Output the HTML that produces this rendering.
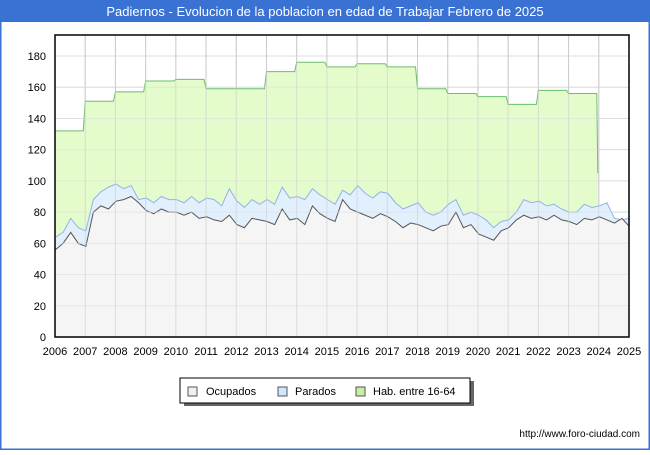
<!DOCTYPE html>
<html><head><meta charset="utf-8"><style>
body{margin:0;width:650px;height:450px;overflow:hidden;font-family:"Liberation Sans","DejaVu Sans",sans-serif;}
</style></head><body>
<svg id="c" width="650" height="450" xmlns="http://www.w3.org/2000/svg">
<rect x="0" y="0" width="650" height="450" fill="#fff" stroke="#3a72d3" stroke-width="3"/>
<rect x="0" y="0" width="650" height="22" fill="#3a72d3"/>
<text x="325" y="16" text-anchor="middle" font-size="13" fill="#fff">Padiernos - Evolucion de la poblacion en edad de Trabajar Febrero de 2025</text>
<g id="grid"></g>
<g id="series"></g>
<rect x="55" y="35" width="574" height="302" fill="none" stroke="#000" stroke-width="1.5"/>
<g id="axes" font-size="11" fill="#000"></g>
<g>
<rect x="184" y="381" width="290" height="25" fill="#666"/>
<rect x="180" y="378" width="290" height="25" fill="#fff" stroke="#000"/>
<rect x="188" y="387" width="9" height="9" fill="#f0f0f0" stroke="#555"/>
<text x="206" y="395" font-size="11">Ocupados</text>
<rect x="278" y="387" width="9" height="9" fill="#cfe6fb" stroke="#555"/>
<text x="295" y="395" font-size="11">Parados</text>
<rect x="356" y="387" width="9" height="9" fill="#c8f0a0" stroke="#555"/>
<text x="373" y="395" font-size="11">Hab. entre 16-64</text>
</g>
<text x="640" y="437" text-anchor="end" font-size="10">http://www.foro-ciudad.com</text>
</svg>
<script>
const years=[2006,2007,2008,2009,2010,2011,2012,2013,2014,2015,2016,2017,2018,2019,2020,2021,2022,2023];
const hab=[132,151,157,164,165,159,159,170,176,173,175,173,159,156,154,149,158,156];
const habEnd=105;
const parados=[64,67,76,70,68,88,93,96,98,95,97,88,89,86,90,88,88,86,90,86,89,88,84,95,87,83,88,85,88,85,96,89,90,88,95,91,88,85,94,91,97,92,89,93,92,86,82,84,86,80,78,80,85,88,78,80,78,75,70,74,75,80,88,86,87,84,85,82,80,80,85,83,84,86,76,75,76];
const ocupados=[56,60,67,60,58,80,84,82,87,88,90,86,81,79,82,80,80,78,80,76,77,75,74,78,72,70,76,75,74,72,82,75,76,72,84,79,76,74,88,82,80,78,76,79,77,74,70,73,72,70,68,71,72,80,70,72,66,64,62,68,70,75,78,76,77,75,78,75,74,72,76,75,77,75,73,76,71];
const yTicks=[0,20,40,60,80,100,120,140,160,180];
const xTicks=[2006,2007,2008,2009,2010,2011,2012,2013,2014,2015,2016,2017,2018,2019,2020,2021,2022,2023,2024,2025];
const NS="http://www.w3.org/2000/svg";
const X=t=>55+(t-2006)*(574/19);
const Y=v=>337-v*(281/180);
function mk(tag,at,parent){const e=document.createElementNS(NS,tag);for(const k in at)e.setAttribute(k,at[k]);parent.appendChild(e);return e;}
const grid=document.getElementById('grid'),ser=document.getElementById('series'),ax=document.getElementById('axes');
mk('rect',{x:55,y:35,width:574,height:302,fill:'#fff'},grid);
yTicks.forEach(v=>{const l=mk('line',{x1:55,x2:629,y1:Y(v),y2:Y(v),stroke:'#ddd'},grid);


const t=mk('text',{x:46,y:Y(v)+4,'text-anchor':'end'},ax);t.textContent=v;

});
xTicks.forEach(v=>{const l=mk('line',{x1:X(v),x2:X(v),y1:35,y2:337,stroke:'#ccc'},grid);


const t=mk('text',{x:X(v),y:355,'text-anchor':'middle'},ax);t.textContent=v;

});
// hab step
let hp=[];years.forEach((y,i)=>{hp.push([X(y),Y(hab[i])]);hp.push([X(y+1)-2,Y(hab[i])]);});
hp.push([X(2024)-1,Y(habEnd)]);
const last=hp[hp.length-1];
const hd='M'+X(2006)+','+Y(0)+' '+hp.map(p=>'L'+p[0]+','+p[1]).join(' ')+' L'+last[0]+','+Y(0)+'Z';
const ha=mk('path',{d:hd,fill:'#e4fbcc',stroke:'none'},ser);


const hl=mk('path',{d:'M'+hp.map(p=>p[0]+','+p[1]).join(' L'),fill:'none',stroke:'#6bbf6b'},ser);


const tq=i=>2006+i*0.25+0.02;
function area(arr,fill,stroke,name){
const pts=arr.map((v,i)=>[X(Math.min(tq(i),2025)),Y(v)]);
const d='M'+pts[0][0]+','+Y(0)+' '+pts.map(p=>'L'+p[0]+','+p[1]).join(' ')+' L'+pts[pts.length-1][0]+','+Y(0)+'Z';
const a=mk('path',{d:d,fill:fill},ser);


const l=mk('path',{d:'M'+pts.map(p=>p[0]+','+p[1]).join(' L'),fill:'none',stroke:stroke,'stroke-width':1},ser);

}
area(parados,'#e2f0fd','#8fb3ea','parados');
area(ocupados,'#f5f5f5','#555','ocupados');
// redraw gridlines lightly over fills
yTicks.forEach(v=>{const l=mk('line',{x1:55,x2:629,y1:Y(v),y2:Y(v),stroke:'#ddd','stroke-opacity':0.6},ser);

});
xTicks.forEach(v=>{const l=mk('line',{x1:X(v),x2:X(v),y1:35,y2:337,stroke:'#ccc','stroke-opacity':0.6},ser);

});
</script>
</body></html>
